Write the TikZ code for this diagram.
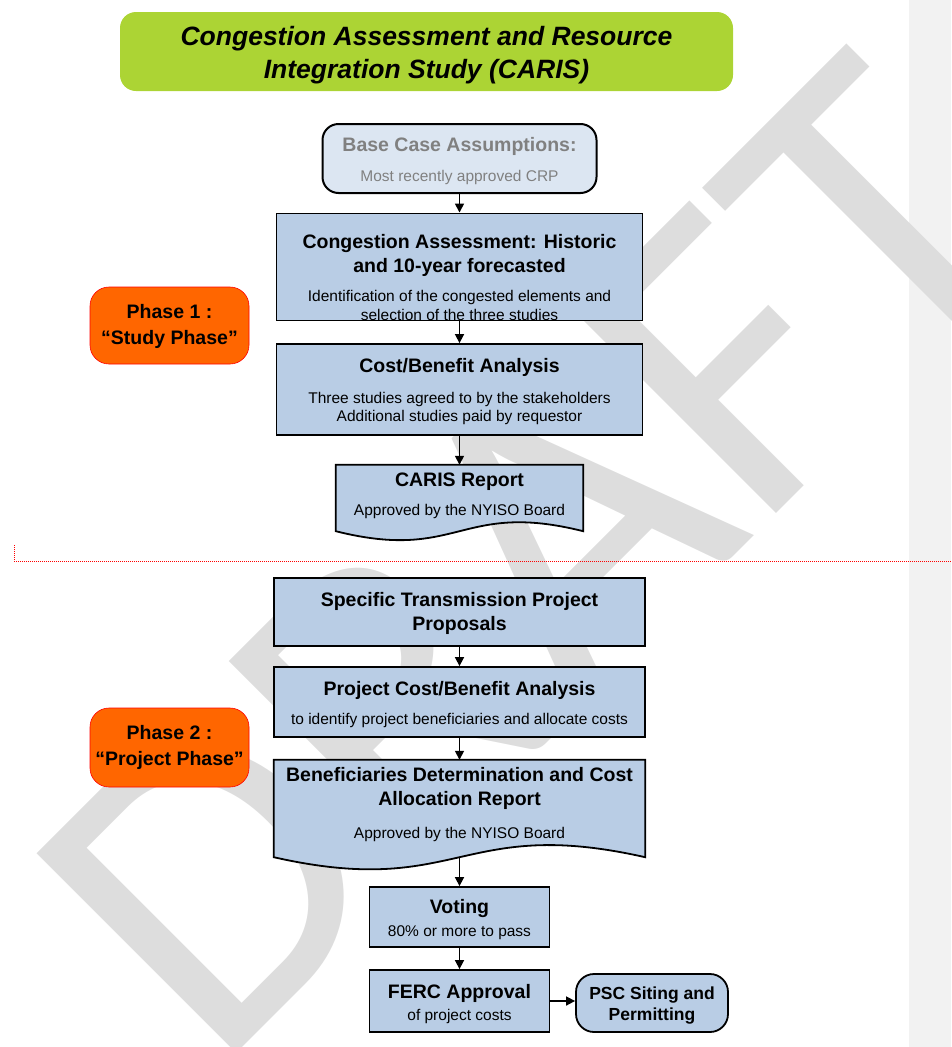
\documentclass[tikz,border=0pt]{standalone}
\usepackage{fontspec}
\setmainfont{Liberation Sans}
\newfontfamily\draftfont{Carlito}
\usetikzlibrary{arrows.meta,backgrounds}

\definecolor{titlegreen}{RGB}{172,212,52}
\definecolor{boxblue}{RGB}{185,205,229}
\definecolor{paleblue}{RGB}{220,230,242}
\definecolor{basegrey}{RGB}{128,128,128}
\definecolor{phaseorange}{RGB}{255,102,0}
\definecolor{margingrey}{RGB}{242,242,242}
\definecolor{draftgrey}{RGB}{221,221,221}

\newcommand{\hd}{\fontsize{19.5}{24}\selectfont\bfseries}
\newcommand{\raiseby}[1]{\rule[-#1]{0pt}{0pt}}
% document shape behind a node: flat top, wavy bottom
\newcommand{\docshape}[2]{\filldraw[fill=boxblue, line width=1.8pt] (#1.south east) .. controls ([yshift=#2]#1.south) and ([yshift=-#2]#1.south) .. (#1.south west) -- (#1.north west) -- (#1.north east) -- cycle;}

\begin{document}
\begin{tikzpicture}[x=1pt, y=-1pt, >={Triangle[length=9pt,width=9pt]},
	box/.style={draw, line width=1.8pt, fill=boxblue, inner sep=0pt, align=center, font=\fontsize{15.5}{24}\selectfont},
	docbox/.style={inner sep=0pt, align=center, font=\fontsize{15.5}{24}\selectfont},
	phasebox/.style={draw=red, line width=0.6pt, fill=phaseorange, rounded corners=19pt, inner sep=0pt, align=center, minimum width=159pt, font=\fontsize{19.5}{26}\selectfont\bfseries},
	link/.style={->, line width=1.6pt}]
			\useasboundingbox (0,0) rectangle (951,1047);
			\begin{scope}[on background layer]
				\fill[margingrey] (909,0) rectangle (951,1047);
				\node[rotate=45, anchor=base west, text=draftgrey, inner sep=0pt, font=\fontsize{440}{440}\selectfont\draftfont] (draft) at (215,1075) {DRAFT};
			\end{scope}
			%\draw [help lines] (0,0) grid (951,1047);
			\node[fill=titlegreen, rounded corners=16pt, minimum width=613pt, minimum height=79pt, inner sep=0pt, align=center, font=\fontsize{26.5}{33}\selectfont\bfseries\itshape] (title) at (426.5,51.5) {\rule{0pt}{26pt}Congestion Assessment and Resource\\Integration Study (CARIS)};
			\node[box, fill=paleblue, line width=2pt, rounded corners=16pt, text=basegrey, minimum width=274pt, minimum height=69pt] (base) at (459.5,158.5) {\rule{0pt}{20pt}\hd Base Case Assumptions:\\[6pt]Most recently approved CRP};
			\node[box, minimum width=366pt, minimum height=106pt] (cong) at (459.5,267) {\rule{0pt}{35pt}\hd Congestion Assessment: Historic\\\hd and 10-year forecasted\\[5pt]Identification of the congested elements and\\[-5pt]selection of the three studies};
			\node[box, minimum width=366pt, minimum height=91pt] (cba) at (459.5,389.5) {\rule{0pt}{18pt}\hd Cost/Benefit Analysis\\[7pt]Three studies agreed to by the stakeholders\\[-6pt]Additional studies paid by requestor};
			\node[docbox, minimum width=247pt, minimum height=66pt] (caris) at (459.5,498) {\hd CARIS Report\\[5pt]Approved by the NYISO Board\raiseby{8pt}};
			\node[phasebox, minimum height=77pt] (phase1) at (169.5,325.5) {\rule{0pt}{17pt}Phase 1 :\\“Study Phase”};
			\draw[red, line width=0.9pt, dash pattern=on 1pt off 1pt] (14,545) -- (14,561) -- (951,561);
			\node[box, minimum width=371pt, minimum height=68pt] (spec) at (459.5,612) {\rule{0pt}{18pt}\hd Specific Transmission Project\\\hd Proposals};
			\node[box, minimum width=371pt, minimum height=70pt] (pcba) at (459.5,702) {\rule{0pt}{20pt}\hd Project Cost/Benefit Analysis\\[5pt]to identify project beneficiaries and allocate costs};
			\node[docbox, minimum width=371pt, minimum height=97pt] (benef) at (459.5,808.5) {\hd Beneficiaries Determination and Cost\\\hd Allocation Report\\[9pt]Approved by the NYISO Board\raiseby{11pt}};
			\node[box, minimum width=180pt, minimum height=60pt] (voting) at (459.5,917) {\rule{0pt}{20pt}\hd Voting\\[-1pt]80\% or more to pass};
			\node[box, minimum width=180pt, minimum height=62pt] (ferc) at (459.5,1001) {\rule{0pt}{20pt}\hd FERC Approval\\[-2pt]of project costs};
			\node[box, rounded corners=18pt, minimum width=152pt, minimum height=58pt, font=\fontsize{17.5}{21}\selectfont\bfseries] (psc) at (652,1003) {\rule{0pt}{17pt}PSC Siting and\\Permitting};
			\node[phasebox, minimum height=79pt] (phase2) at (169.5,747.5) {Phase 2 :\\“Project Phase”};
			\begin{scope}[on background layer]
				\docshape{caris}{31pt}
				\docshape{benef}{42pt}
			\end{scope}
			\draw[link] (base) -- (cong);
			\draw[link] (cong) -- (cba);
			\draw[link] (cba) -- (caris);
			\draw[link] (spec) -- (pcba);
			\draw[link] (pcba) -- (benef);
			\draw[link] (benef) -- (voting);
			\draw[link] (voting) -- (ferc);
			\draw[link] (ferc.east) -- (ferc.east -| psc.west);
		\end{tikzpicture}
\end{document}
